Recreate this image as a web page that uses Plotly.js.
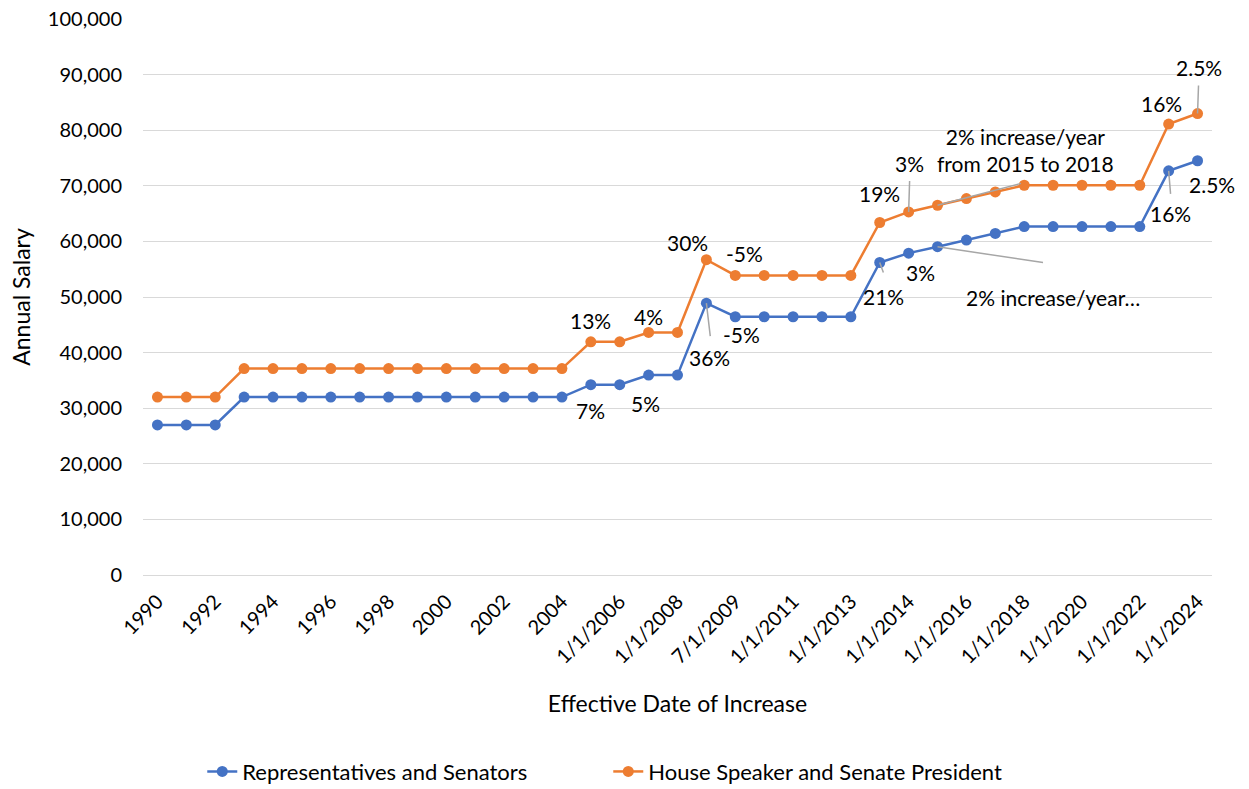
<!DOCTYPE html>
<html>
<head>
<meta charset="utf-8">
<script src="https://cdn.plot.ly/plotly-3.0.1.min.js"></script>
<style>html,body{margin:0;padding:0;background:#fff;}#chart{width:1249px;height:789px;}</style>
</head>
<body>
<div id="chart"></div>
<script>
// ---- data ----
var categories = ['1990','1991','1992','1993','1994','1995','1996','1997','1998','1999','2000','2001','2002','2003','2004',
  '1/1/2005','1/1/2006','1/1/2007','1/1/2008','1/1/2009','7/1/2009','1/1/2010','1/1/2011','1/1/2012','1/1/2013','7/1/2013',
  '1/1/2014','1/1/2015','1/1/2016','1/1/2017','1/1/2018','1/1/2019','1/1/2020','1/1/2021','1/1/2022','1/1/2023','1/1/2024'];
var repsSenators = [27000,27000,27000,32000,32000,32000,32000,32000,32000,32000,32000,32000,32000,32000,32000,
  34240,34240,35952,35952,48895,46450,46450,46450,46450,46450,56205,
  57891,59049,60230,61435,62664,62664,62664,62664,62664,72690,74507];
var speakerPresident = [32000,32000,32000,37120,37120,37120,37120,37120,37120,37120,37120,37120,37120,37120,37120,
  41946,41946,43624,43624,56711,53876,53876,53876,53876,53876,63400,
  65300,66500,67700,68900,70100,70100,70100,70100,70100,81100,83000];
var tickLabels = ['1990','1992','1994','1996','1998','2000','2002','2004','1/1/2006','1/1/2008','7/1/2009','1/1/2011',
  '1/1/2013','1/1/2014','1/1/2016','1/1/2018','1/1/2020','1/1/2022','1/1/2024'];
var yTicks = [0,10000,20000,30000,40000,50000,60000,70000,80000,90000,100000];
var seriesNames = ['Representatives and Senators','House Speaker and Senate President'];

// label texts: [series (0 reps, 1 speaker), category index, text]
var labelSeries = [1,0,1,0,1,0,1,1,0,0,0,1,1,0,1,0,1,0,1,0];
var labelIndex  = [3,3,15,15,17,17,19,20,19,20,25,25,26,26,27,27,35,35,36,36];
var labelText   = ['16% increase','19% increase','13%','7%','4%','5%','30%','-5%','36%','-5%','21%','19%','3%','3%',
  '2% increase/year<br>from 2015 to 2018','2% increase/year…','16%','16%','2.5%','2.5%'];

// ---- layout of labels (pixel offsets of text centre and leader end from the point) ----
var labelDX = [-4,-2,0,0,0,-3,-19,9,3,6,4,0,1,12,88,115,-7,2,1,14];
var labelDY = [-19,60,-21,26,-16,28,-17,-22,54,18,34,-29,-48,19,-55,51,-21,43,-46,24];
var leadDX  = [null,-1,null,null,null,null,null,null,4,null,4,null,1,null,84,106,null,2,1,null];
var leadDY  = [null,41,null,null,null,null,null,null,34,null,11,null,-32,null,-22,16,null,24,-29,null];

var FONT = 'Lato, "Open Sans", sans-serif';
var blue = '#4472C4', orange = '#ED7D31';
var series = [repsSenators, speakerPresident];

var traces = [
  {x: categories, y: repsSenators, name: seriesNames[0], type: 'scatter', mode: 'lines+markers',
   line: {color: blue, width: 2.5}, marker: {color: blue, size: 11}},
  {x: categories, y: speakerPresident, name: seriesNames[1], type: 'scatter', mode: 'lines+markers',
   line: {color: orange, width: 2.5}, marker: {color: orange, size: 11}}
];

var annotations = [];
for (var i = 0; i < labelText.length; i++) {
  var xv = categories[labelIndex[i]], yv = series[labelSeries[i]][labelIndex[i]];
  if (leadDX[i] !== null) {
    annotations.push({x: xv, y: yv, xref: 'x', yref: 'y', text: ' ', showarrow: true, arrowhead: 0,
      arrowwidth: 1.5, arrowcolor: '#a6a6a6', ax: leadDX[i], ay: leadDY[i], standoff: 0, borderpad: 0,
      font: {size: 1}});
  }
  annotations.push({x: xv, y: yv, xref: 'x', yref: 'y', text: labelText[i], showarrow: false,
    xshift: labelDX[i], yshift: -labelDY[i], font: {family: FONT, size: 21, color: '#000'}});
}

var layout = {
  width: 1249, height: 789,
  margin: {l: 143, r: 37, t: 19, b: 214, pad: 0},
  paper_bgcolor: '#fff', plot_bgcolor: '#fff',
  font: {family: FONT, color: '#000'},
  showlegend: true,
  legend: {orientation: 'h', xref: 'container', yref: 'container', x: 0.487, y: 0.022, xanchor: 'center', yanchor: 'middle',
    font: {family: FONT, size: 22, color: '#000'}, entrywidth: 361, entrywidthmode: 'pixels'},
  xaxis: {type: 'category', tickmode: 'array', tickvals: tickLabels, ticktext: tickLabels, tickangle: -45,
    tickfont: {family: FONT, size: 20, color: '#000'}, showgrid: false, showline: true, linecolor: '#d9d9d9',
    linewidth: 1, ticks: '', zeroline: false, range: [-0.5, 36.5], ticklabelstandoff: 6,
    title: {text: 'Effective Date of Increase', font: {family: FONT, size: 23, color: '#000'}, standoff: 28}},
  yaxis: {range: [0, 100000], tickvals: yTicks, tickformat: ',d', showgrid: true, gridcolor: '#d9d9d9', gridwidth: 1,
    showline: false, zeroline: false, ticks: '', ticklabelstandoff: 20,
    tickfont: {family: FONT, size: 20, color: '#000'},
    title: {text: 'Annual Salary', font: {family: FONT, size: 23, color: '#000'}, standoff: 10}},
  annotations: annotations
};

Plotly.newPlot('chart', traces, layout, {displayModeBar: false, staticPlot: true});
</script>
</body>
</html>
